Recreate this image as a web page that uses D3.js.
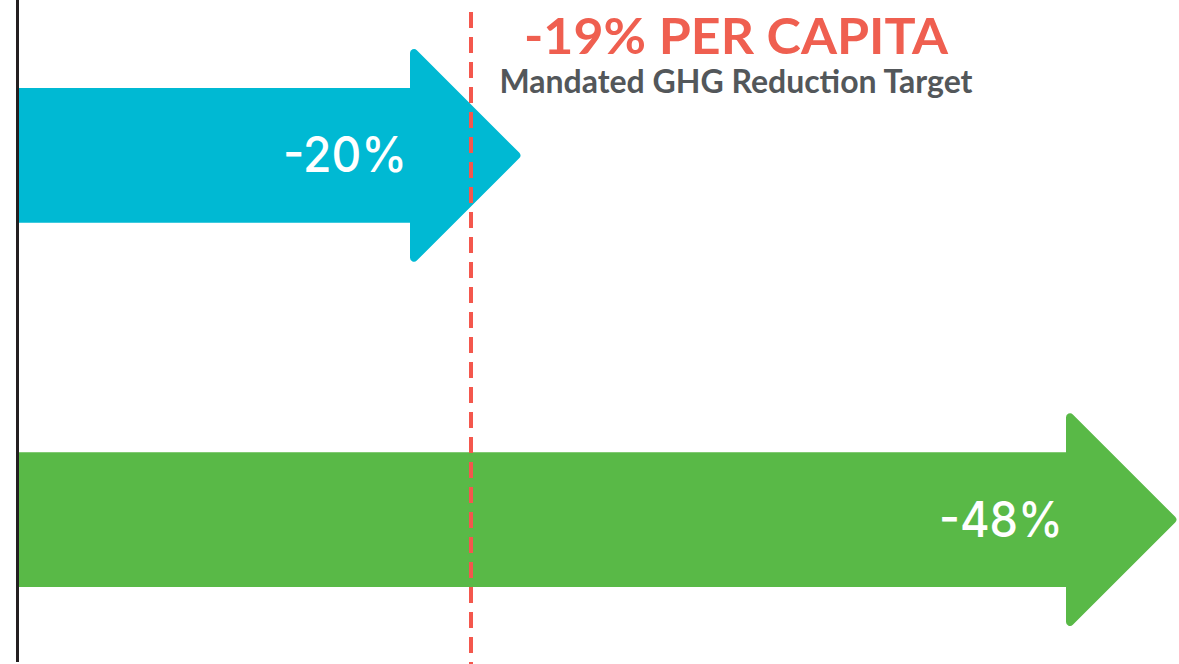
<!DOCTYPE html>
<html>
<head>
<meta charset="utf-8">
<script src="https://cdn.jsdelivr.net/npm/d3@7"></script>
<style>
  html, body { margin: 0; padding: 0; background: #fff; }
  svg { display: block; }
</style>
</head>
<body>
<div id="chart"></div>
<script>
// reductions (per cent, shown as negative)
const categories = ['Scenario A', 'Scenario B']
const reductions = [20, 48]
const barColors = ['#00b9d3', '#59b947']
const target = 19
const targetTitle = '-19% PER CAPITA'
const targetSubtitle = 'Mandated GHG Reduction Target'

const width = 1179; const height = 664
const headLen = 112; const headHalf = 112

const svg = d3.select('#chart').append('svg')
  .attr('width', width).attr('height', height)

// not to scale in the original, so the x scale is polylinear
const xScale = d3.scaleLinear()
  .domain([0, target, reductions[0], reductions[1]])
  .range([18, 471, 522, 1178])

const yScale = d3.scaleBand()
  .domain(categories)
  .range([88, 587])
  .paddingInner(0.63)

// arrow outline with rounded head corners
function arrowPath (v, cat) {
  const x0 = xScale(0)
  const tip = xScale(v)
  const bx = tip - headLen
  const top = yScale(cat)
  const bot = top + yScale.bandwidth()
  const cy = top + yScale.bandwidth() / 2
  const pts = [
    [x0, top, 0], [bx, top, 0], [bx, cy - headHalf, 4], [tip, cy, 4],
    [bx, cy + headHalf, 4], [bx, bot, 0], [x0, bot, 0]
  ]
  const p = d3.path()
  const last = pts[pts.length - 1]
  p.moveTo((last[0] + pts[0][0]) / 2, (last[1] + pts[0][1]) / 2)
  pts.forEach((pt, i) => {
    const nx = pts[(i + 1) % pts.length]
    p.arcTo(pt[0], pt[1], nx[0], nx[1], pt[2])
  })
  p.closePath()
  return p.toString()
}

svg.selectAll('path.arrow')
  .data(reductions)
  .enter().append('path')
  .attr('class', 'arrow')
  .attr('d', (d, i) => arrowPath(d, categories[i]))
  .style('fill', (d, i) => barColors[i])

svg.selectAll('text.value')
  .data(reductions)
  .enter().append('text')
  .attr('class', 'value')
  .attr('x', d => xScale(d) - headLen - 3)
  .attr('y', (d, i) => yScale(categories[i]) + yScale.bandwidth() / 2 + 17)
  .attr('text-anchor', 'end')
  .attr('textLength', 124)
  .attr('lengthAdjust', 'spacingAndGlyphs')
  .style('font-family', 'Inter, sans-serif')
  .style('font-weight', 500)
  .style('font-size', '49px')
  .style('fill', '#fff')
  .text(d => '-' + d + '%')

// target line
svg.append('line')
  .attr('x1', xScale(target)).attr('x2', xScale(target))
  .attr('y1', 12).attr('y2', height)
  .style('stroke', '#f4574d')
  .style('stroke-width', 4)
  .style('stroke-dasharray', '16,9')

// left axis
svg.append('line')
  .attr('x1', xScale(0) - 0.5).attr('x2', xScale(0) - 0.5)
  .attr('y1', 0).attr('y2', 662)
  .style('stroke', '#231f20')
  .style('stroke-width', 3)

svg.append('text')
  .attr('x', 736).attr('y', 54)
  .attr('text-anchor', 'middle')
  .attr('textLength', 424)
  .attr('lengthAdjust', 'spacingAndGlyphs')
  .style('font-family', 'Lato, sans-serif')
  .style('font-weight', 700)
  .style('font-size', '49px')
  .style('fill', '#ef5f50')
  .text(targetTitle)

svg.append('text')
  .attr('x', 736).attr('y', 93)
  .attr('text-anchor', 'middle')
  .attr('textLength', 473)
  .attr('lengthAdjust', 'spacingAndGlyphs')
  .style('font-family', 'Lato, sans-serif')
  .style('font-weight', 700)
  .style('font-size', '32px')
  .style('fill', '#53575a')
  .text(targetSubtitle)
</script>
</body>
</html>
